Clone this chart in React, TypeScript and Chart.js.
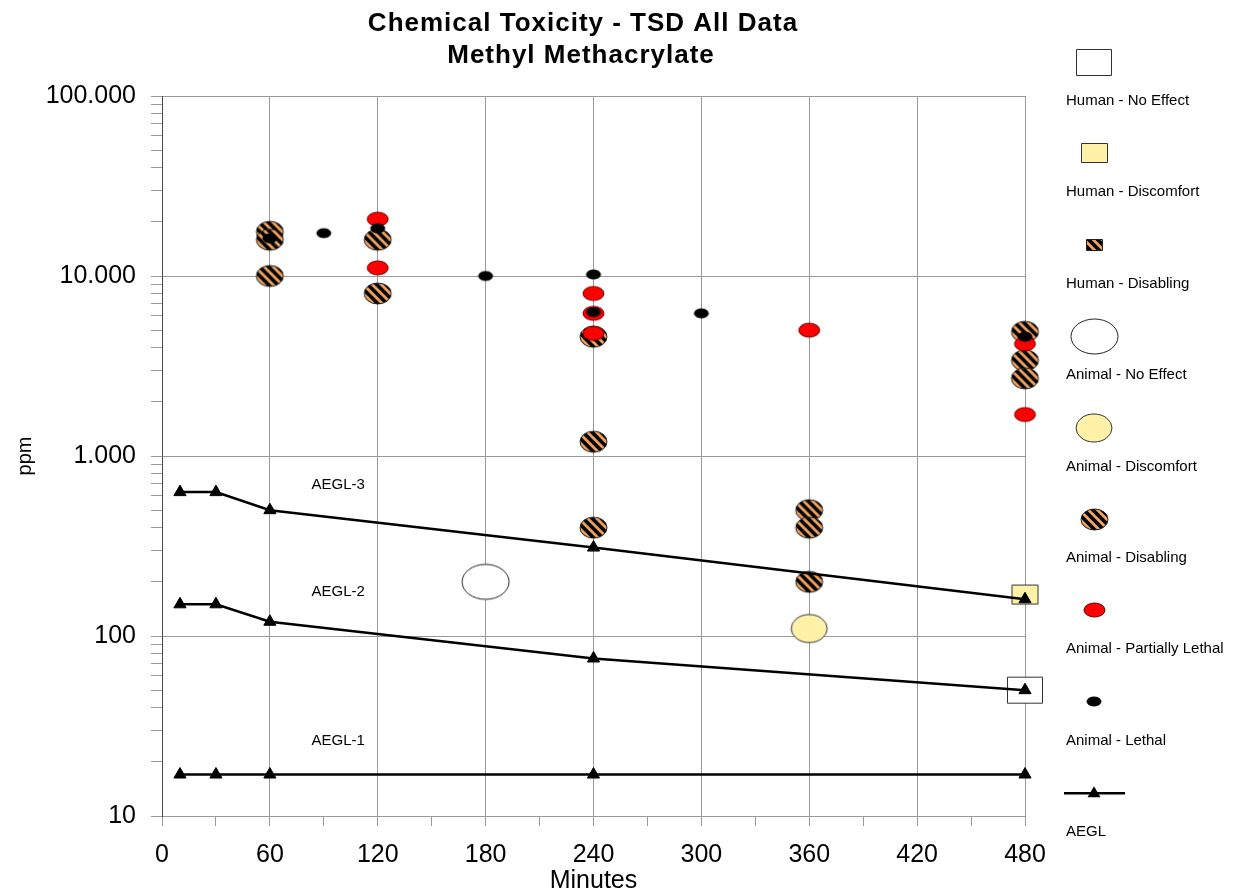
import React, { useEffect, useRef } from 'react';
import { Chart, registerables } from 'chart.js';

Chart.register(...registerables);

const FONT = "'Liberation Sans', Arial, sans-serif";
const GRID = '#9a9a9a';

// ---- text ----
const titleLines = ['Chemical Toxicity - TSD All Data', 'Methyl Methacrylate'];
const xAxisTitle = 'Minutes';
const yAxisTitle = 'ppm';
const legendLabels = [
  'Human - No Effect',
  'Human - Discomfort',
  'Human - Disabling',
  'Animal - No Effect',
  'Animal - Discomfort',
  'Animal - Disabling',
  'Animal - Partially Lethal',
  'Animal - Lethal',
  'AEGL',
];

// ---- ticks ----
const xMajorTicks = [0, 60, 120, 180, 240, 300, 360, 420, 480];
const xMinorTicks = [30, 90, 150, 210, 270, 330, 390, 450];
const yDecades = [10, 100, 1000, 10000, 100000];
const yTickLabels = ['10', '100', '1.000', '10.000', '100.000'];
const yMinorMultipliers = [2, 3, 4, 5, 6, 7, 8, 9];

// ---- AEGL lines ----
const aeglMinutes = [10, 30, 60, 240, 480];
const aegl1 = [17, 17, 17, 17, 17];
const aegl2 = [150, 150, 120, 75, 50];
const aegl3 = [630, 630, 500, 310, 160];
const aeglLabelNames = ['AEGL-1', 'AEGL-2', 'AEGL-3'];
const aeglLabelMinute = 98;
const aeglLabelPpm = [26, 175, 690];

// ---- observations ----
const humanNoEffectMin = [480];
const humanNoEffectPpm = [50];
const humanDiscomfortMin = [480];
const humanDiscomfortPpm = [170];
const humanDisablingMin: number[] = [];
const humanDisablingPpm: number[] = [];
const animalNoEffectMin = [180];
const animalNoEffectPpm = [200];
const animalDiscomfortMin = [360];
const animalDiscomfortPpm = [110];
const animalDisablingMin = [60, 60, 60, 120, 120, 240, 240, 240, 360, 360, 360, 480, 480, 480];
const animalDisablingPpm = [17600, 15900, 10000, 15900, 8000, 4600, 1200, 400, 500, 400, 200, 4900, 3400, 2700];
const animalPartLethalMin = [120, 120, 240, 240, 240, 360, 480, 480];
const animalPartLethalPpm = [20700, 11100, 8000, 6200, 4800, 5000, 4200, 1700];
const animalLethalMin = [60, 90, 120, 180, 240, 240, 300, 480];
const animalLethalPpm = [16200, 17300, 18400, 10000, 10200, 6300, 6200, 4600];

function makeMarker(shape: 'ellipse' | 'rect', w: number, h: number, fill: string, stroke: string, striped = false): HTMLCanvasElement {
  const pad = 2;
  const c = document.createElement('canvas');
  c.width = w + pad * 2;
  c.height = h + pad * 2;
  const ctx = c.getContext('2d')!;
  const path = new Path2D();
  if (shape === 'ellipse') path.ellipse(c.width / 2, c.height / 2, w / 2, h / 2, 0, 0, Math.PI * 2);
  else path.rect(pad + 0.5, pad + 0.5, w - 1, h - 1);
  ctx.fillStyle = fill;
  ctx.fill(path);
  if (striped) {
    ctx.save();
    ctx.clip(path);
    ctx.strokeStyle = '#000';
    ctx.lineWidth = 3.6;
    for (let k = -c.height; k < c.width + c.height; k += 9) {
      ctx.beginPath();
      ctx.moveTo(k, 0);
      ctx.lineTo(k + c.height, c.height);
      ctx.stroke();
    }
    ctx.restore();
  }
  ctx.strokeStyle = stroke;
  ctx.lineWidth = 1;
  ctx.stroke(path);
  return c;
}

function pts(xs: number[], ys: number[]) {
  return xs.map((x, i) => ({ x, y: ys[i] }));
}

export default function App() {
  const ref = useRef<HTMLCanvasElement>(null);

  useEffect(() => {
    const canvas = ref.current;
    if (!canvas) return;

    const ORANGE = '#f2a462';
    const m = {
      humanNoEffect: makeMarker('rect', 36, 27, '#ffffff', '#333'),
      humanDiscomfort: makeMarker('rect', 27, 20, '#fff2a8', '#333'),
      humanDisabling: makeMarker('rect', 17, 12, ORANGE, '#222', true),
      animalNoEffect: makeMarker('ellipse', 47, 35, '#ffffff', '#222'),
      animalDiscomfort: makeMarker('ellipse', 36, 28, '#fff2a8', '#333'),
      animalDisabling: makeMarker('ellipse', 27, 21, ORANGE, '#222', true),
      animalPartLethal: makeMarker('ellipse', 21, 14, '#ff0000', '#6a0000'),
      animalLethal: makeMarker('ellipse', 14, 9, '#000000', '#000'),
    };
    const legendMarkers = [
      m.humanNoEffect, m.humanDiscomfort, m.humanDisabling, m.animalNoEffect,
      m.animalDiscomfort, m.animalDisabling, m.animalPartLethal, m.animalLethal, null,
    ];

    const scatter = (label: string, xs: number[], ys: number[], marker: HTMLCanvasElement, order: number) => ({
      label,
      data: pts(xs, ys),
      pointStyle: marker,
      pointRadius: 6,
      pointHoverRadius: 6,
      showLine: false,
      clip: false,
      order,
    });
    const aegl = (label: string, ys: number[]) => ({
      label,
      data: pts(aeglMinutes, ys),
      showLine: true,
      borderColor: '#000',
      borderWidth: 2.5,
      backgroundColor: '#000',
      pointStyle: 'triangle',
      pointRadius: 7,
      pointHoverRadius: 7,
      pointBackgroundColor: '#000',
      pointBorderColor: '#000',
      pointBorderWidth: 1,
      clip: false,
      order: 0,
    });

    const yAllTicks: number[] = [];
    yDecades.forEach((d, i) => {
      yAllTicks.push(d);
      if (i < yDecades.length - 1) yMinorMultipliers.forEach((k) => yAllTicks.push(d * k));
    });
    const xAllTicks = [...xMajorTicks, ...xMinorTicks].sort((a, b) => a - b);

    const overlay = {
      id: 'overlay',
      afterDraw(chart: any) {
        const ctx: CanvasRenderingContext2D = chart.ctx;
        const xs = chart.scales.x;
        const ys = chart.scales.y;
        ctx.save();
        // title
        ctx.fillStyle = '#000';
        ctx.font = `bold 26px ${FONT}`;
        (ctx as any).letterSpacing = '1px';
        ctx.textAlign = 'center';
        ctx.textBaseline = 'alphabetic';
        ctx.fillText(titleLines[0], 583, 31);
        ctx.fillText(titleLines[1], 581, 63);
        (ctx as any).letterSpacing = '0px';
        // AEGL labels
        ctx.font = `15px ${FONT}`;
        ctx.textBaseline = 'middle';
        aeglLabelNames.forEach((t, i) => {
          ctx.fillText(t, xs.getPixelForValue(aeglLabelMinute), ys.getPixelForValue(aeglLabelPpm[i]));
        });
        // legend
        const iconX = 1094;
        const startY = 62;
        const step = 91.4;
        ctx.textAlign = 'left';
        ctx.textBaseline = 'alphabetic';
        legendLabels.forEach((label, i) => {
          const cy = startY + i * step;
          const mk = legendMarkers[i];
          if (mk) {
            ctx.drawImage(mk, Math.round(iconX - mk.width / 2), Math.round(cy - mk.height / 2));
          } else {
            ctx.strokeStyle = '#000';
            ctx.lineWidth = 2.5;
            ctx.beginPath();
            ctx.moveTo(1064, cy);
            ctx.lineTo(1125, cy);
            ctx.stroke();
            ctx.fillStyle = '#000';
            ctx.beginPath();
            ctx.moveTo(iconX, cy - 7);
            ctx.lineTo(iconX + 6.5, cy + 4);
            ctx.lineTo(iconX - 6.5, cy + 4);
            ctx.closePath();
            ctx.fill();
          }
          ctx.fillStyle = '#000';
          ctx.font = `15px ${FONT}`;
          ctx.fillText(label, 1066, cy + 43);
        });
        ctx.restore();
      },
    };

    const chart = new Chart(canvas, {
      type: 'scatter',
      data: {
        datasets: [
          aegl('AEGL-1', aegl1),
          aegl('AEGL-2', aegl2),
          aegl('AEGL-3', aegl3),
          scatter(legendLabels[7], animalLethalMin, animalLethalPpm, m.animalLethal, 1),
          scatter(legendLabels[6], animalPartLethalMin, animalPartLethalPpm, m.animalPartLethal, 2),
          scatter(legendLabels[5], animalDisablingMin, animalDisablingPpm, m.animalDisabling, 3),
          scatter(legendLabels[4], animalDiscomfortMin, animalDiscomfortPpm, m.animalDiscomfort, 4),
          scatter(legendLabels[3], animalNoEffectMin, animalNoEffectPpm, m.animalNoEffect, 5),
          scatter(legendLabels[2], humanDisablingMin, humanDisablingPpm, m.humanDisabling, 6),
          scatter(legendLabels[1], humanDiscomfortMin, humanDiscomfortPpm, m.humanDiscomfort, 7),
          scatter(legendLabels[0], humanNoEffectMin, humanNoEffectPpm, m.humanNoEffect, 8),
        ] as any,
      },
      options: {
        responsive: false,
        devicePixelRatio: 1,
        animation: false,
        events: [],
        layout: { padding: { left: 0, right: 208, top: 96, bottom: 0 } },
        plugins: {
          legend: { display: false },
          tooltip: { enabled: false },
          title: { display: false },
        },
        scales: {
          x: {
            type: 'linear',
            min: 0,
            max: 480,
            afterBuildTicks: (s: any) => {
              s.ticks = xAllTicks.map((v) => ({ value: v }));
            },
            afterFit: (s: any) => {
              s.height = 78;
            },
            ticks: {
              autoSkip: false,
              maxRotation: 0,
              minRotation: 0,
              padding: 14,
              color: '#000',
              font: { family: FONT, size: 25 },
              callback: (v: any) => (xMajorTicks.includes(Number(v)) ? String(v) : ''),
            },
            grid: {
              color: (c: any) => (c.tick && xMajorTicks.includes(c.tick.value) ? GRID : 'rgba(0,0,0,0)'),
              tickColor: GRID,
              tickLength: 10,
              lineWidth: 1,
            },
            border: { color: GRID, width: 1 },
            title: {
              display: true,
              text: xAxisTitle,
              color: '#000',
              font: { family: FONT, size: 25, lineHeight: 1 },
              padding: 0,
            },
          },
          y: {
            type: 'logarithmic',
            min: 10,
            max: 100000,
            afterBuildTicks: (s: any) => {
              s.ticks = yAllTicks.map((v) => ({ value: v }));
            },
            afterFit: (s: any) => {
              s.width = 162;
            },
            ticks: {
              autoSkip: false,
              padding: 15,
              color: '#000',
              font: { family: FONT, size: 25 },
              callback: (v: any) => {
                const i = yDecades.indexOf(Number(v));
                return i >= 0 ? yTickLabels[i] : '';
              },
            },
            grid: {
              color: (c: any) => (c.tick && yDecades.includes(c.tick.value) ? GRID : 'rgba(0,0,0,0)'),
              tickColor: GRID,
              tickLength: 11,
              lineWidth: 1,
            },
            border: { color: '#4a4a4a', width: 1 },
            title: {
              display: true,
              text: yAxisTitle,
              color: '#000',
              font: { family: FONT, size: 20, lineHeight: 1.2 },
              padding: { top: 13, bottom: 0 },
            },
          },
        },
      } as any,
      plugins: [overlay],
    });

    return () => chart.destroy();
  }, []);

  return (
    <div style={{ position: 'fixed', left: 0, top: 0, width: 1233, height: 894, background: '#fff' }}>
      <canvas ref={ref} width={1233} height={894} style={{ display: 'block', width: 1233, height: 894 }} />
    </div>
  );
}
